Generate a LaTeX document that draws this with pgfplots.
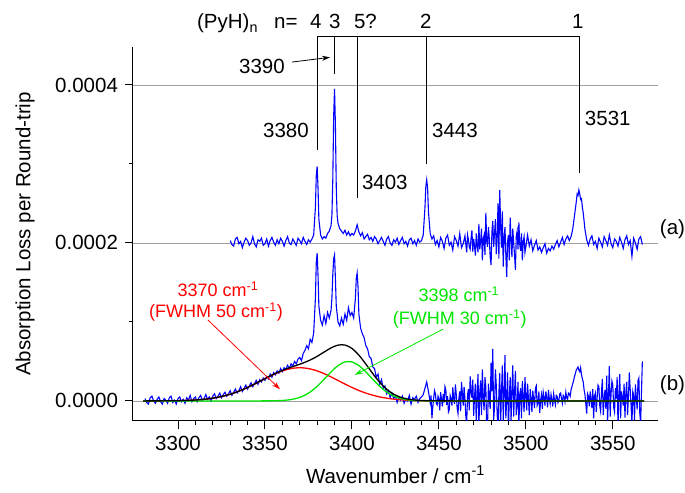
\documentclass[border=0pt]{standalone}
\usepackage{pgfplots}
\pgfplotsset{compat=1.18}
\usepackage{fontspec}
\setmainfont{Liberation Sans}
\usetikzlibrary{arrows.meta}
\definecolor{fitgreen}{RGB}{0,230,0}
\definecolor{gridgray}{RGB}{160,160,160}

\begin{document}
\fontsize{20.5}{24}\selectfont
\begin{tikzpicture}
\begin{axis}[
  scale only axis, width=525pt, height=374pt,
  xmin=3274.1, xmax=3575.9, ymin=-0.253, ymax=4.481,
  axis lines*=left,
  axis line style={line width=1pt},
  xtick={3300,3350,...,3550}, minor x tick num=4,
  ytick={0,2,4}, yticklabels={0.0000,0.0002,0.0004}, minor y tick num=1,
  tick align=outside, major tick length=8pt, minor tick length=4pt,
  tick style={black, line width=1pt},
  ymajorgrids, major grid style={gridgray, line width=0.8pt},
  /pgf/number format/1000 sep={}, /pgf/number format/assume math mode=true,
  xlabel={Wavenumber / cm\textsuperscript{-1}},
  ylabel={Absorption Loss per Round-trip},
  xlabel style={at={(axis description cs:0.5,-0.167)}, anchor=base},
  ylabel style={at={(axis description cs:-0.2057,0.5)}, anchor=center},
  clip mode=individual,
]

% (a) spectrum, offset by 0.0002 (values in units of 1e-4)
\addplot[blue, line width=1.1pt] coordinates {
(3330,2.03)(3331,1.98)(3332,1.96)(3333,2.05)(3334,2.07)(3335,1.99)(3336,2.02)(3337,1.94)(3338,2.01)(3339,2.06)
(3340,2.03)(3341,1.97)(3342,2.00)(3343,2.08)(3344,1.99)(3345,1.95)(3346,2.04)(3347,2.02)(3348,2.06)(3349,1.97)
(3350,1.99)(3351,2.05)(3352,1.96)(3353,2.03)(3354,2.07)(3355,2.01)(3356,1.97)(3357,2.04)(3358,1.99)(3359,2.06)
(3360,2.02)(3361,1.96)(3362,2.03)(3363,2.08)(3364,2.00)(3365,1.98)(3366,2.05)(3367,2.01)(3368,1.97)(3369,2.06)
(3370,2.03)(3371,1.99)(3372,2.07)(3373,2.02)(3374,1.98)(3375,2.04)(3376,2.01)(3377,2.05)(3378,2.10)(3379,2.45)
(3379.5,2.85)(3380,2.97)(3380.5,2.70)(3381,2.30)(3382,2.10)(3383,2.05)(3384,2.08)(3385,2.06)(3386,2.12)(3387,2.15)
(3388,2.22)(3388.5,2.35)(3389,2.80)(3389.5,3.60)(3390,3.95)(3390.5,3.50)(3391,2.70)(3391.5,2.35)(3392,2.25)(3393,2.18)
(3394,2.15)(3395,2.12)(3396,2.16)(3397,2.10)(3398,2.14)(3399,2.09)(3400,2.12)(3401,2.10)(3402,2.15)(3403,2.23)
(3404,2.14)(3405,2.09)(3406,2.13)(3407,2.05)(3408,2.08)(3409,2.11)(3410,2.04)(3411,2.07)(3412,2.02)(3413,2.08)
(3414,2.05)(3415,1.99)(3416,2.03)(3417,2.07)(3418,2.02)(3419,1.97)(3420,2.05)(3421,2.08)(3422,2.00)(3423,1.97)
(3424,2.04)(3425,2.01)(3426,2.06)(3427,1.98)(3428,2.03)(3429,2.07)(3430,1.99)(3431,2.02)(3432,1.96)(3433,2.04)
(3434,2.06)(3435,1.99)(3436,2.03)(3437,1.97)(3438,2.05)(3439,2.01)(3440,2.03)(3441,2.10)(3442,2.45)(3442.5,2.72)
(3443,2.80)(3443.5,2.70)(3444,2.40)(3445,2.12)(3446,2.05)(3447,2.09)(3448,1.98)(3449,2.03)(3450,1.95)(3451,2.07)
(3452,2.02)(3453,1.93)(3454,2.06)(3455,2.10)(3456,1.97)(3457,2.01)(3458,1.91)(3459,2.08)(3460,2.03)(3461,1.96)
(3462,2.12)(3463,1.94)(3464,1.99)
(3465,2.09)(3465.5,1.98)(3466,1.88)(3466.5,2.10)(3467,2.04)(3467.5,1.95)(3468,1.92)(3468.5,2.06)(3469,2.16)(3469.5,1.89)
(3470,2.05)(3470.5,1.96)(3471,1.84)(3471.5,2.12)(3472,1.97)(3472.5,1.88)(3473,2.24)(3473.5,1.92)(3474,2.02)(3474.5,2.18)
(3475,1.78)(3475.5,2.05)(3476,2.10)(3476.5,1.85)(3477,2.38)(3477.5,2.02)(3478,1.95)(3478.5,2.20)(3479,2.05)(3479.5,1.82)
(3480,1.72)(3480.5,2.14)(3481,2.28)(3481.5,1.95)(3482,2.12)(3482.5,2.30)(3483,1.86)(3483.5,2.04)(3484,2.50)(3484.5,1.80)
(3485,2.67)(3485.5,2.22)(3486,1.94)(3486.5,2.40)(3487,1.70)(3487.5,2.05)(3488,2.20)(3488.5,1.85)(3489,1.57)(3489.5,2.02)
(3490,2.10)(3490.5,1.78)(3491,2.32)(3491.5,2.05)(3492,1.82)(3492.5,2.18)(3493,2.00)(3493.5,1.85)(3494,1.66)(3494.5,2.08)
(3495,2.15)(3495.5,1.92)(3496,2.26)(3496.5,1.98)(3497,1.90)(3497.5,2.12)(3498,1.78)(3498.5,2.02)(3499,2.08)(3499.5,1.88)
(3500,1.95)(3501,2.10)
(3502,1.96)(3503,2.04)(3504,1.90)(3505,1.97)(3506,2.03)(3507,1.91)(3508,1.95)(3509,1.88)(3510,1.94)(3511,1.99)
(3512,1.87)(3513,1.93)(3514,1.90)(3515,1.96)(3516,1.92)(3517,1.98)(3518,2.03)(3519,1.95)(3520,2.01)(3521,2.07)
(3522,1.98)(3523,2.05)(3524,2.09)(3525,2.03)(3526,2.08)(3527,2.18)(3528,2.35)(3529,2.52)(3529.5,2.62)(3530,2.60)
(3530.5,2.67)(3531,2.62)(3531.5,2.55)(3532,2.56)(3532.5,2.45)(3533,2.38)(3534,2.17)(3535,2.04)(3536,1.97)(3537,2.05)
(3538,2.09)(3539,1.98)(3540,2.02)(3541,1.93)(3542,2.06)(3543,2.01)(3544,1.95)(3545,2.08)(3546,2.03)(3547,1.97)
(3548,2.10)(3549,1.99)(3550,1.94)(3551,2.05)(3552,2.02)(3553,1.96)(3554,2.07)(3555,2.01)(3556,1.93)(3557,2.04)
(3558,2.09)(3559,1.98)(3560,2.03)(3561,1.83)(3562,2.06)(3563,2.00)(3564,1.92)(3565,2.05)(3566,2.08)(3567,1.98)
};

% (b) spectrum
\addplot[blue, line width=1.1pt] coordinates {
(3281,0.03)(3282,-0.02)(3283,-0.04)(3284,0.04)(3285,0.06)(3286,0.00)(3287,-0.03)(3288,0.02)(3289,0.05)(3290,-0.01)
(3291,-0.04)(3292,0.03)(3293,0.01)(3294,-0.03)(3295,0.04)(3296,0.06)(3297,-0.02)(3298,0.01)(3299,-0.04)(3300,0.03)
(3301,0.05)(3302,-0.01)(3303,0.02)(3304,-0.03)(3305,0.04)(3306,0.01)(3307,0.07)(3308,-0.01)(3309,0.03)(3310,0.05)
(3311,-0.01)(3312,0.04)(3313,0.07)(3314,0.01)(3315,0.03)(3316,0.08)(3317,0.02)(3318,0.05)(3319,0.00)(3320,0.06)
(3321,0.09)(3322,0.03)(3323,0.06)(3324,0.10)(3325,0.04)(3326,0.08)(3327,0.11)(3328,0.06)(3329,0.09)(3330,0.13)
(3331,0.07)(3332,0.11)(3333,0.15)(3334,0.10)(3335,0.13)(3336,0.18)(3337,0.12)(3338,0.16)(3339,0.20)(3340,0.15)
(3341,0.19)(3342,0.23)(3343,0.18)(3344,0.22)(3345,0.26)(3346,0.21)(3347,0.27)(3348,0.24)(3349,0.29)(3350,0.26)
(3351,0.31)(3352,0.28)(3353,0.34)(3354,0.30)(3355,0.36)(3356,0.33)(3357,0.38)(3358,0.35)(3359,0.41)(3360,0.37)
(3361,0.42)(3362,0.40)(3363,0.45)(3364,0.41)(3365,0.47)(3366,0.44)(3367,0.50)(3368,0.47)(3369,0.53)(3370,0.55)
(3371,0.51)(3372,0.60)(3373,0.64)(3374,0.70)(3375,0.66)(3376,0.78)(3377,0.74)(3378,0.86)(3379,1.30)(3379.5,1.75)
(3380,1.87)(3380.5,1.60)(3381,1.20)(3382,1.02)(3383,0.96)(3384,1.08)(3385,0.98)(3386,1.12)(3387,1.05)(3388,1.15)
(3388.5,1.30)(3389,1.60)(3389.5,1.80)(3390,1.85)(3390.5,1.55)(3391,1.20)(3392,1.00)(3393,0.95)(3394,1.05)(3395,0.97)
(3396,1.10)(3397,1.02)(3398,1.18)(3399,1.08)(3400,1.12)(3401,1.05)(3402,1.30)(3402.5,1.55)(3403,1.62)(3403.5,1.45)
(3404,1.10)(3405,0.92)(3406,0.85)(3407,0.80)(3408,0.70)(3409,0.66)(3410,0.56)(3411,0.54)(3412,0.43)(3413,0.41)
(3414,0.30)(3415,0.34)(3416,0.21)(3417,0.27)(3418,0.16)(3419,0.19)(3420,0.09)(3421,0.13)(3422,0.04)(3423,0.10)
(3424,0.03)(3425,0.06)(3426,-0.02)(3427,0.05)(3428,0.01)(3429,0.06)(3430,-0.03)(3431,0.03)(3432,0.00)(3433,0.07)
(3434,-0.04)(3435,0.04)(3436,0.02)(3437,0.06)(3438,-0.02)(3439,0.03)(3440,0.05)(3441,0.08)(3442,0.16)(3443,0.24)
(3444,0.12)
(3445,-0.02)(3445.5,0.07)(3446,-0.22)(3446.5,-0.08)(3447,0.04)(3447.5,0.13)(3448,0.09)(3448.5,-0.03)(3449,-0.05)(3449.5,0.06)
(3450,0.03)(3450.5,-0.12)(3451,0.11)(3451.5,0.02)(3452,-0.07)(3452.5,0.09)(3453,-0.02)(3453.5,0.18)(3454,0.14)(3454.5,-0.05)
(3455,0.06)(3455.5,-0.14)(3456,-0.11)(3456.5,0.07)(3457,0.03)(3457.5,-0.06)(3458,0.17)(3458.5,0.03)(3459,-0.04)(3459.5,0.21)
(3460,0.08)(3460.5,-0.09)(3461,-0.16)(3461.5,0.04)(3462,0.12)(3462.5,-0.13)(3463,0.24)(3463.5,0.10)(3464,-0.06)(3464.5,0.18)
(3465,0.02)(3465.5,-0.20)(3466,-0.28)(3466.5,0.08)(3467,0.15)(3467.5,-0.12)(3468,0.31)(3468.5,0.12)(3469,0.04)(3469.5,0.27)
(3470,-0.19)(3470.5,0.06)(3471,0.22)(3471.5,-0.28)(3472,0.09)(3472.5,0.34)(3473,-0.35)(3473.5,0.10)(3474,0.26)(3474.5,-0.18)
(3475,0.40)(3475.5,0.05)(3476,-0.12)(3476.5,0.30)(3477,0.18)(3477.5,-0.36)(3478,-0.30)(3478.5,0.22)(3479,0.05)(3479.5,-0.10)
(3480,0.48)(3480.5,0.12)(3481,0.66)(3481.5,-0.24)(3482,-0.08)(3482.5,0.40)(3483,0.20)(3483.5,-0.15)(3484,-0.42)(3484.5,0.10)
(3485,0.35)(3485.5,-0.30)(3486,0.12)(3486.5,0.45)(3487,-0.25)(3487.5,0.08)(3488,0.58)(3488.5,-0.22)(3489,0.02)(3489.5,0.36)
(3490,-0.38)(3490.5,0.05)(3491,0.30)(3491.5,-0.26)(3492,0.14)(3492.5,0.45)(3493,-0.20)(3493.5,0.10)(3494,0.38)(3494.5,-0.18)
(3495,-0.05)(3495.5,0.24)(3496,-0.32)(3496.5,0.08)(3497,0.16)(3497.5,-0.22)(3498,0.25)(3498.5,0.05)(3499,-0.14)(3499.5,0.30)
(3500,0.06)(3500.5,-0.12)(3501,0.22)(3501.5,0.02)(3502,-0.18)(3502.5,0.15)(3503,0.03)(3503.5,-0.14)(3504,0.13)(3504.5,0.02)
(3505,-0.09)(3505.5,0.16)(3506,0.19)(3506.5,-0.06)(3507,-0.03)(3507.5,0.12)(3508,-0.15)(3508.5,0.01)(3509,0.08)(3509.5,-0.10)
(3510,0.11)(3510.5,0.04)(3511,-0.06)(3511.5,0.12)(3512,0.04)(3512.5,-0.08)(3513,0.14)(3513.5,0.03)(3514,-0.04)(3514.5,0.08)
(3515,0.02)(3515.5,-0.07)(3516,0.09)(3516.5,0.01)(3517,-0.05)(3517.5,0.07)(3518,0.06)(3518.5,-0.02)(3519,0.01)(3519.5,0.09)
(3520,0.10)(3520.5,0.03)(3521,-0.03)(3521.5,0.07)(3522,0.05)(3522.5,-0.01)(3523,0.11)(3523.5,0.04)(3524,0.02)(3524.5,0.10)
(3525,0.09)(3525.5,0.06)(3526,0.14)(3526.5,0.18)(3527,0.22)(3527.5,0.26)(3528,0.31)(3528.5,0.35)(3529,0.39)(3529.5,0.41)
(3530,0.43)(3530.5,0.39)(3531,0.37)(3531.5,0.42)(3532,0.33)(3532.5,0.28)(3533,0.24)(3533.5,0.14)(3534,0.08)(3534.5,-0.04)
(3535,-0.16)(3535.5,0.09)(3536,0.06)(3536.5,-0.07)(3537,0.12)(3537.5,0.02)(3538,-0.09)(3538.5,0.15)(3539,-0.22)(3539.5,0.06)
(3540,0.10)(3540.5,-0.14)(3541,0.04)(3541.5,0.20)(3542,0.18)(3542.5,-0.06)(3543,-0.13)(3543.5,0.11)(3544,0.28)(3544.5,-0.18)
(3545,0.02)(3545.5,0.14)(3546,-0.10)(3546.5,0.32)(3547,-0.26)(3547.5,0.06)(3548,0.44)(3548.5,-0.20)(3549,0.09)(3549.5,0.25)
(3550,0.20)(3550.5,-0.08)(3551,-0.14)(3551.5,0.16)(3552,0.03)(3552.5,0.30)(3553,-0.33)(3553.5,0.08)(3554,0.34)(3554.5,-0.22)
(3555,0.12)(3555.5,0.05)(3556,-0.06)(3556.5,0.22)(3557,-0.21)(3557.5,0.10)(3558,0.24)(3558.5,-0.18)(3559,0.05)(3559.5,0.36)
(3560,0.15)(3560.5,-0.05)(3561,-0.31)(3561.5,0.12)(3562,0.07)(3562.5,-0.24)(3563,0.21)(3563.5,0.05)(3564,-0.11)(3564.5,0.26)
(3565,0.29)(3565.5,-0.15)(3566,-0.28)(3566.5,0.12)(3567,0.50)
};

% fit component at 3370
\addplot[red, line width=1.3pt, smooth] coordinates {
(3280,0.0001)(3284,0.0003)(3288,0.0005)(3292,0.0010)(3296,0.0018)(3300,0.0031)(3304,0.0054)(3308,0.0090)
(3312,0.0145)(3316,0.0227)(3320,0.0345)(3324,0.0506)(3328,0.0720)(3332,0.0991)(3336,0.1322)(3340,0.1708)
(3344,0.2136)(3348,0.2588)(3352,0.3038)(3356,0.3453)(3360,0.3800)(3364,0.4051)(3368,0.4183)(3372,0.4183)
(3376,0.4051)(3380,0.3800)(3384,0.3453)(3388,0.3038)(3392,0.2588)(3396,0.2136)(3400,0.1708)(3404,0.1322)
(3408,0.0991)(3412,0.0720)(3416,0.0506)(3420,0.0345)(3424,0.0227)(3428,0.0145)(3432,0.0090)(3436,0.0054)
(3440,0.0031)(3444,0.0018)(3448,0.0010)(3452,0.0005)(3456,0.0003)(3460,0.0001)(3470,0)(3568,0)
};

% fit component at 3398
\addplot[fitgreen, line width=1.3pt, smooth] coordinates {
(3280,0)(3340,0)(3348,0.0002)(3352,0.0007)(3356,0.0022)(3360,0.0058)(3364,0.0142)(3368,0.0312)(3372,0.0623)
(3376,0.1126)(3380,0.1843)(3384,0.2734)(3388,0.3675)(3392,0.4475)(3396,0.4939)(3400,0.4939)(3404,0.4475)
(3408,0.3675)(3412,0.2734)(3416,0.1843)(3420,0.1126)(3424,0.0623)(3428,0.0312)(3432,0.0142)(3436,0.0058)
(3440,0.0022)(3444,0.0007)(3448,0.0002)(3456,0)(3568,0)
};

% sum of both components
\addplot[black, line width=1.3pt, smooth] coordinates {
(3280,0.0001)(3284,0.0003)(3288,0.0005)(3292,0.0010)(3296,0.0018)(3300,0.0031)(3304,0.0054)(3308,0.0090)
(3312,0.0145)(3316,0.0227)(3320,0.0345)(3324,0.0506)(3328,0.0720)(3332,0.0991)(3336,0.1322)(3340,0.1708)
(3344,0.2137)(3348,0.2590)(3352,0.3045)(3356,0.3475)(3360,0.3858)(3364,0.4193)(3368,0.4495)(3372,0.4806)
(3376,0.5177)(3380,0.5643)(3384,0.6187)(3388,0.6713)(3392,0.7063)(3396,0.7075)(3400,0.6647)(3404,0.5797)
(3408,0.4666)(3412,0.3454)(3416,0.2349)(3420,0.1471)(3424,0.0850)(3428,0.0457)(3432,0.0232)(3436,0.0112)
(3440,0.0053)(3444,0.0025)(3448,0.0012)(3452,0.0005)(3456,0.0003)(3460,0.0001)(3470,0)(3568,0)
};

% cluster assignment bracket
\draw[line width=0.8pt] (axis cs:3380,3.18) -- (axis cs:3380,4.62) -- (axis cs:3531,4.62) -- (axis cs:3531,2.89);
\draw[line width=0.8pt] (axis cs:3390,4.62) -- (axis cs:3390,4.14);
\draw[line width=0.8pt] (axis cs:3403,4.62) -- (axis cs:3403,2.57);
\draw[line width=0.8pt] (axis cs:3443,4.62) -- (axis cs:3443,3.00);

\node[anchor=base west, inner sep=0] at (axis cs:3310.9,4.71) {(PyH)\textsubscript{n}};
\node[anchor=base west, inner sep=0] at (axis cs:3355.2,4.71) {n=};
\node[anchor=base, inner sep=0] at (axis cs:3379.3,4.71) {4};
\node[anchor=base, inner sep=0] at (axis cs:3390.2,4.71) {3};
\node[anchor=base, inner sep=0] at (axis cs:3407.8,4.71) {5?};
\node[anchor=base, inner sep=0] at (axis cs:3442.5,4.71) {2};
\node[anchor=base, inner sep=0] at (axis cs:3529.9,4.71) {1};

\node[anchor=base east, inner sep=0] at (axis cs:3361.5,4.15) {3390};
\draw[line width=0.8pt, -{Stealth[length=8pt,width=5pt]}] (axis cs:3365.5,4.29) -- (axis cs:3387.4,4.35);
\node[anchor=base east, inner sep=0] at (axis cs:3375.3,3.34) {3380};
\node[anchor=base west, inner sep=0] at (axis cs:3446,3.34) {3443};
\node[anchor=base west, inner sep=0] at (axis cs:3533.9,3.49) {3531};
\node[anchor=base west, inner sep=0] at (axis cs:3405.7,2.68) {3403};
\node[anchor=base west, inner sep=0] at (axis cs:3577,2.11) {(a)};
\node[anchor=base west, inner sep=0] at (axis cs:3577,0.13) {(b)};

\node[red, anchor=base, inner sep=0, font=\fontsize{18}{21}\selectfont] at (axis cs:3323,1.32) {3370 cm\textsuperscript{-1}};
\node[red, anchor=base, inner sep=0, font=\fontsize{18}{21}\selectfont] at (axis cs:3321.8,1.05) {(FWHM 50 cm\textsuperscript{-1})};
\node[fitgreen, anchor=base, inner sep=0, font=\fontsize{18}{21}\selectfont] at (axis cs:3461.5,1.26) {3398 cm\textsuperscript{-1}};
\node[fitgreen, anchor=base, inner sep=0, font=\fontsize{18}{21}\selectfont] at (axis cs:3462,0.97) {(FWHM 30 cm\textsuperscript{-1})};
\draw[red, line width=0.8pt, -{Stealth[length=8pt,width=5pt]}] (axis cs:3317.2,1.025) -- (axis cs:3358.6,0.148);
\draw[fitgreen, line width=0.8pt, -{Stealth[length=8pt,width=5pt]}] (axis cs:3452.5,0.91) -- (axis cs:3401.7,0.33);
\end{axis}
\path ([shift={(-133pt,-72pt)}]current axis.south west) rectangle ([shift={(27pt,47pt)}]current axis.north east);
\end{tikzpicture}
\end{document}
